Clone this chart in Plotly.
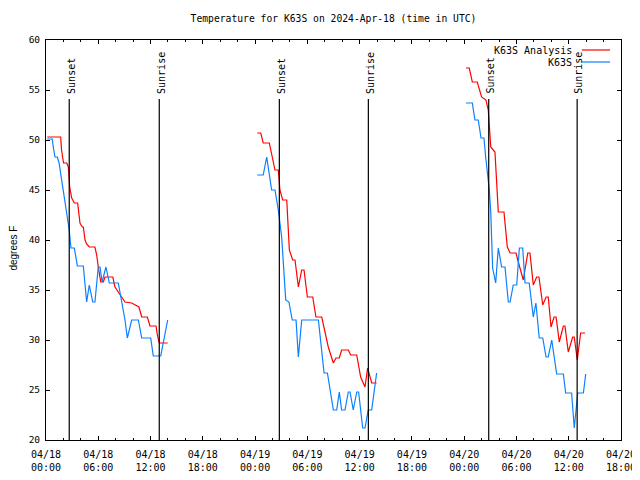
import plotly.graph_objects as go

# ---------------- data ----------------
days = ["2024-04-18", "2024-04-19", "2024-04-20"]

# K63S Analysis (red)
analysis_d1_t = ["00:09","01:41","01:47","01:57","02:01","02:23","02:34","02:43","02:57","03:15","03:38","03:54","04:10","04:17","04:29","04:40","04:58","05:37","05:49","06:00","06:17","06:35","06:46","07:40","07:55","08:41","09:04","09:50","10:40","10:59","11:38","11:56","12:38","12:47","13:00","13:58"]
analysis_d1_v = [50.3,50.3,49.0,48.2,47.7,47.7,47.3,45.3,44.2,43.7,43.7,41.7,41.3,41.3,40.0,39.6,39.3,39.3,38.5,37.3,35.8,35.8,36.3,36.3,35.3,34.3,33.8,33.7,33.3,32.3,32.3,31.4,31.4,30.5,29.7,29.7]
analysis_d2_t = ["00:15","00:39","00:56","01:38","02:17","02:40","02:51","03:10","03:38","03:56","04:19","04:35","04:58","05:21","05:37","06:00","06:37","06:59","07:39","08:24","08:59","09:17","09:40","09:56","10:42","10:58","11:40","12:07","12:37","12:55","13:23","13:57"]
analysis_d2_v = [50.7,50.7,49.7,49.7,47.0,47.0,45.0,44.0,44.0,39.0,38.0,38.0,35.3,37.0,37.0,34.3,34.3,32.3,32.3,29.3,27.7,28.2,28.2,29.0,29.0,28.5,28.5,26.3,25.3,27.2,25.7,25.7]
analysis_d3_t = ["00:12","00:35","00:56","01:30","02:00","02:30","02:46","03:03","03:32","03:55","04:34","04:57","05:16","05:57","06:09","06:47","07:18","07:33","07:56","08:19","08:35","09:01","09:24","09:39","09:58","10:19","10:33","10:55","11:23","11:34","11:57","12:27","12:38","12:59","13:22","13:52"]
analysis_d3_v = [57.2,57.2,55.8,55.8,54.3,54.0,53.0,49.3,48.8,42.8,42.8,39.3,38.7,38.7,38.0,36.0,38.7,38.7,35.5,36.3,36.3,33.5,34.3,34.3,31.3,32.3,32.3,29.8,31.4,31.4,28.8,30.3,30.3,28.0,30.7,30.7]

# K63S (blue)
obs_d1_t = ["00:09","00:43","00:50","01:02","01:18","01:30","02:40","02:45","02:52","03:15","03:36","04:17","04:29","04:40","04:58","05:22","05:37","06:00","06:12","06:26","06:53","07:16","08:18","08:37","09:04","09:20","09:50","10:36","10:59","12:01","12:19","13:10","13:58"]
obs_d1_v = [50.1,50.1,49.3,48.3,48.3,47.7,41.0,39.7,39.2,39.2,37.4,37.4,35.7,33.8,35.5,33.8,33.8,37.3,37.3,35.8,37.3,35.7,35.7,34.3,32.0,30.2,32.0,32.0,30.2,30.2,28.4,28.4,32.0]
obs_d2_t = ["00:15","00:56","01:20","01:54","02:17","02:40","03:03","03:31","03:53","04:16","04:42","04:58","05:21","07:16","07:55","08:18","08:59","09:22","09:40","09:56","10:19","10:42","10:54","11:16","11:40","11:53","12:21","12:37","12:59","13:23","13:57"]
obs_d2_v = [46.5,46.5,48.3,45.0,45.0,43.0,40.3,34.0,33.8,32.0,32.0,28.3,32.0,32.0,26.7,26.7,23.0,23.0,24.8,23.0,23.0,24.8,24.8,23.0,24.8,24.8,21.2,21.2,23.0,23.0,26.7]
obs_d3_t = ["00:12","00:56","01:14","01:37","01:56","02:16","02:28","02:42","02:53","03:03","03:09","03:16","03:37","03:55","04:18","04:41","05:04","05:16","05:38","06:02","06:20","06:43","06:59","07:28","07:56","08:14","08:37","09:01","09:24","09:39","10:03","10:37","11:23","11:39","12:20","12:38","13:02","13:41","13:57"]
obs_d3_v = [53.7,53.7,52.0,52.0,50.2,50.2,48.3,46.3,45.0,42.8,39.3,37.2,35.7,39.2,37.3,37.3,33.8,33.8,35.5,35.5,39.2,39.2,35.7,35.7,32.3,33.7,30.2,30.2,28.3,28.3,30.0,26.6,26.6,24.7,24.7,21.2,24.7,24.7,26.6]

sunset_times = ["2024-04-18 02:40", "2024-04-19 02:47", "2024-04-20 02:49"]
sunrise_times = ["2024-04-18 13:00", "2024-04-19 13:00", "2024-04-20 12:58"]

series_names = ["K63S Analysis", "K63S"]
series_colors = ["#ff0000", "#0a80ff"]


def join_days(tlists, vlists):
    xs, ys = [], []
    for day, ts, vs in zip(days, tlists, vlists):
        xs += [f"{day} {t}" for t in ts] + [None]
        ys += list(vs) + [None]
    return xs[:-1], ys[:-1]


ax, ay = join_days([analysis_d1_t, analysis_d2_t, analysis_d3_t],
                   [analysis_d1_v, analysis_d2_v, analysis_d3_v])
ox, oy = join_days([obs_d1_t, obs_d2_t, obs_d3_t],
                   [obs_d1_v, obs_d2_v, obs_d3_v])

FONT = "DejaVu Sans Mono"

fig = go.Figure()
fig.add_trace(go.Scatter(x=ax, y=ay, mode="lines", name=series_names[0],
                         line=dict(color=series_colors[0], width=1.2),
                         connectgaps=False, showlegend=False))
fig.add_trace(go.Scatter(x=ox, y=oy, mode="lines", name=series_names[1],
                         line=dict(color=series_colors[1], width=1.2),
                         connectgaps=False, showlegend=False))

shapes = []
annotations = []
for label, times in (("Sunset", sunset_times), ("Sunrise", sunrise_times)):
    for t in times:
        shapes.append(dict(type="line", xref="x", yref="y", x0=t, x1=t, y0=20, y1=54.1,
                           line=dict(color="black", width=1.2)))
        annotations.append(dict(x=t, y=54.43, xref="x", yref="y", text=label,
                                textangle=-90, showarrow=False, xanchor="center",
                                yanchor="bottom", xshift=2,
                                font=dict(family=FONT, size=10, color="black")))

# manual gnuplot-style key (text right, sample line to the right)
key_y = [0.975, 0.945]
for name, color, yy in zip(series_names, series_colors, key_y):
    annotations.append(dict(x=0.918, y=yy, xref="paper", yref="paper", text=name,
                            showarrow=False, xanchor="right", yanchor="middle",
                            font=dict(family=FONT, size=10, color="black")))
    shapes.append(dict(type="line", xref="paper", yref="paper", x0=0.932, x1=0.981,
                       y0=yy, y1=yy, line=dict(color=color, width=1.2)))

annotations.append(dict(x=-0.0557, y=0.481, xref="paper", yref="paper", text="degrees F",
                        textangle=-90, showarrow=False, xanchor="center", yanchor="middle",
                        font=dict(family="Liberation Sans", size=10, color="black")))

# page body has an 8px margin: size the figure so the page does not scroll
fig.update_layout(
    width=632, height=464,
    margin=dict(l=38, r=19, t=32, b=32, autoexpand=False),
    paper_bgcolor="white", plot_bgcolor="white",
    title=dict(text="Temperature for K63S on 2024-Apr-18 (time in UTC)",
               x=0.5, xref="paper", y=1 - 11 / 464, yref="container",
               xanchor="center", yanchor="middle",
               font=dict(family=FONT, size=9.7, color="black")),
    shapes=shapes, annotations=annotations,
    font=dict(family=FONT, size=10, color="black"),
)
fig.update_xaxes(
    type="date", range=["2024-04-18 00:00", "2024-04-20 18:00"],
    tick0="2024-04-18 00:00", dtick=6 * 3600 * 1000,
    tickformat="%m/%d<br>%H:%M", automargin=False, ticklabeloverflow="allow",
    ticks="inside", ticklen=4, tickcolor="black",
    minor=dict(dtick=2 * 3600 * 1000, ticks="inside", ticklen=2, tickcolor="black"),
    showline=True, linecolor="black", linewidth=1, mirror="ticks",
    showgrid=False, zeroline=False, ticklabelstandoff=5,
    tickfont=dict(family=FONT, size=10, color="black"),
)
fig.update_yaxes(
    range=[20, 60], dtick=5, tick0=20, automargin=False,
    ticks="inside", ticklen=4, tickcolor="black",
    showline=True, linecolor="black", linewidth=1, mirror="ticks",
    showgrid=False, zeroline=False, ticklabelstandoff=3,
    tickfont=dict(family=FONT, size=9.5, color="black"),
)

fig.write_html("out.html")
